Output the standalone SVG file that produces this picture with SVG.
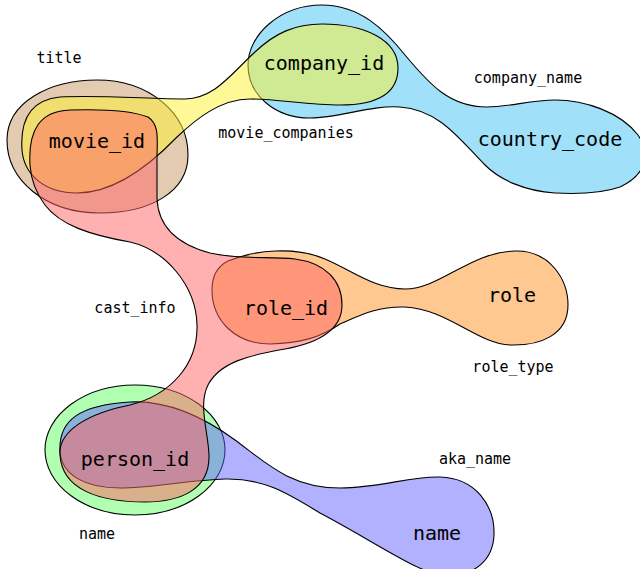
<svg xmlns="http://www.w3.org/2000/svg" width="640" height="569" viewBox="0 0 640 569">
<style>
.blob{stroke:#000;stroke-width:1.1;fill-opacity:0.5}
.node{font-family:"DejaVu Sans Mono",monospace;font-size:20px;fill:#000;text-anchor:middle}
.elabel{font-family:"DejaVu Sans Mono",monospace;font-size:15px;fill:#000;text-anchor:middle}
</style>
<rect width="640" height="569" fill="#fff"/>
<g id="connectors">
  <g id="edge-title"><path class="blob" fill="#c79765" d="M7,140 C7,102 50,80 97,80 C148,80 188,112 188,155 C188,192 150,213 100,213 C45,213 7,180 7,140 Z"/></g>
  <g id="edge-company_name"><path class="blob" fill="#41c1f1" d="M248,65 C248,35 280,5 322,5 C360,5 385,30 405,55 C430,85 450,107 487,107 C510,107 530,100 555,100 C585,100 620,112 638,135 C652,155 645,175 620,187 C600,194 575,194 555,193 C525,191 500,180 485,165 C460,140 440,110 400,107 C370,105 340,118 310,118 C275,118 248,95 248,65 Z"/></g>
  <g id="edge-movie_companies"><path class="blob" fill="#fff12d" d="M22,150 C20,120 30,100 60,97 C100,95 150,99 185,99 C215,98 230,75 255,52 C275,33 295,24 322,24 C365,24 398,40 398,68 C398,95 375,105 340,105 C310,105 275,99 250,99 C220,99 195,120 177,137 C150,165 115,193 77,193 C45,193 24,175 22,150 Z"/></g>
  <g id="edge-name"><ellipse class="blob" fill="#64ff64" cx="135" cy="450" rx="90" ry="65"/></g>
  <g id="edge-aka_name"><path class="blob" fill="#6464ff" d="M60,452 C58,420 80,405 130,402 C170,400 205,418 235,440 C265,462 290,488 340,488 C380,488 410,476 440,477 C475,478 495,505 494,535 C493,560 475,576 445,576 C420,574 375,542 320,513 C290,495 265,478 225,479 C190,480 150,488 120,488 C85,488 62,475 60,452 Z"/></g>
  <g id="edge-role_type"><path class="blob" fill="#ff9121" d="M228,261 C255,250 295,246 325,259 C355,272 375,289 405,289 C440,289 470,252 515,251 C550,250 568,280 568,305 C568,335 540,346 510,345 C478,344 447,309 405,307 C375,306 355,318 340,324 C320,338 300,343 270,344 C235,344 212,320 212,290 C212,275 218,266 228,261 Z"/></g>
  <g id="edge-cast_info"><path class="blob" fill="#ff6464" d="M30,165 C28,130 40,111 70,110 C100,109 130,110 148,117 C160,125 157,140 157,160 L157,198 C158,228 180,245 210,253 C240,260 270,256 295,259 C325,263 342,280 342,305 C342,330 318,343 285,349 C250,355 220,362 208,385 C198,405 208,430 209,455 C210,490 180,502 145,502 C100,502 62,490 60,455 C58,430 90,413 130,405 C170,395 198,365 197,325 C196,285 165,250 130,242 C90,235 60,225 45,205 C36,193 31,180 30,165 Z"/></g>
</g>
<g id="edge-labels">
  <text class="elabel" x="59" y="63">title</text>
  <text class="elabel" x="286" y="138">movie_companies</text>
  <text class="elabel" x="528" y="83">company_name</text>
  <text class="elabel" x="135" y="313">cast_info</text>
  <text class="elabel" x="513" y="372">role_type</text>
  <text class="elabel" x="475" y="464">aka_name</text>
  <text class="elabel" x="97" y="539">name</text>
</g>
<g id="node-movie_id"><text class="node" x="97" y="148">movie_id</text></g>
<g id="node-company_id"><text class="node" x="324" y="70">company_id</text></g>
<g id="node-country_code"><text class="node" x="550" y="146">country_code</text></g>
<g id="node-role_id"><text class="node" x="286" y="315">role_id</text></g>
<g id="node-role"><text class="node" x="512" y="302">role</text></g>
<g id="node-person_id"><text class="node" x="135" y="466">person_id</text></g>
<g id="node-name"><text class="node" x="437" y="540">name</text></g>
</svg>
